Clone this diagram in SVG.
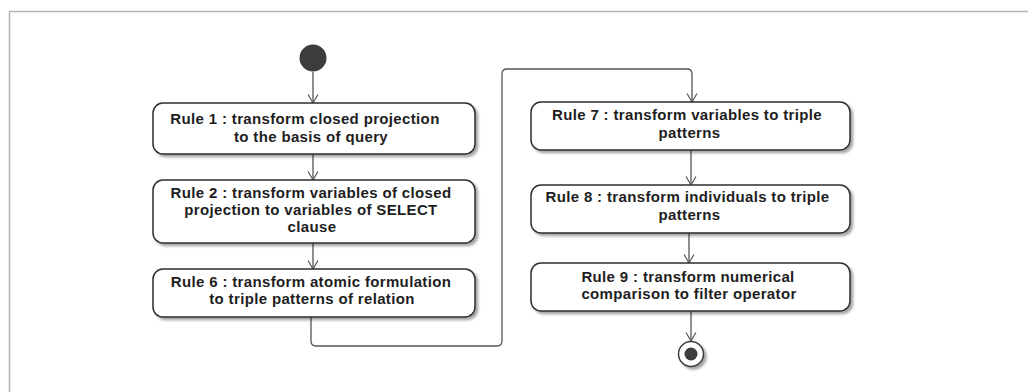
<svg xmlns="http://www.w3.org/2000/svg" width="1028" height="392" viewBox="0 0 1028 392">
  <style>
    .frame { fill: none; stroke: #b4b4b4; stroke-width: 1.5; }
    .action { fill: #ffffff; stroke: #2e2e2e; stroke-width: 1.5; filter: url(#shadow); }
    .label { font-family: "Liberation Sans", Arial, sans-serif; font-weight: bold; font-size: 15px; letter-spacing: 0.35px; fill: #1e1e1e; text-anchor: middle; }
    .flow { fill: none; stroke: #555555; stroke-width: 1.3; marker-end: url(#open-arrow); }
  </style>
  <defs>
    <filter id="shadow" x="-10%" y="-20%" width="130%" height="150%">
      <feDropShadow dx="2.5" dy="2.5" stdDeviation="1.2" flood-color="#000000" flood-opacity="0.35"/>
    </filter>
    <marker id="open-arrow" markerUnits="userSpaceOnUse" viewBox="0 0 10 12" refX="9.5" refY="6" markerWidth="9" markerHeight="12" orient="auto">
      <path d="M0,0.5 L9.5,6 L0,11.5" fill="none" stroke="#555555" stroke-width="1.3"/>
    </marker>
  </defs>

  <rect width="1028" height="392" fill="#ffffff"/>
  <!-- diagram frame (top and left edges) -->
  <path class="frame" d="M9.5,392 V11.5 H1028"/>

  <!-- control flows -->
  <g id="connectors">
    <path class="flow" d="M313,72 V103"/>
    <path class="flow" d="M313,154 V180"/>
    <path class="flow" d="M313,243 V269"/>
    <path class="flow" d="M311,317 V341 Q311,346 316,346 H497 Q502,346 502,341 V74 Q502,69 507,69 H687 Q692,69 692,74 V102"/>
    <path class="flow" d="M691,150 V185"/>
    <path class="flow" d="M689,233 V263"/>
    <path class="flow" d="M691,311 V341"/>
  </g>

  <g id="start">
    <circle cx="313" cy="58" r="13.5" fill="#3c3c3c"/>
  </g>

  <g id="rule1">
    <rect class="action" x="153" y="103" width="322" height="51" rx="10"/>
    <text class="label" x="305" y="123.5">Rule 1 : transform closed projection</text>
    <text class="label" x="311" y="142">to the basis of query</text>
  </g>

  <g id="rule2">
    <rect class="action" x="153" y="180" width="322" height="63" rx="10"/>
    <text class="label" x="311" y="198">Rule 2 : transform variables of closed</text>
    <text class="label" x="311" y="214.5">projection to variables of SELECT</text>
    <text class="label" x="312" y="231.5">clause</text>
  </g>

  <g id="rule6">
    <rect class="action" x="153" y="269" width="322" height="48" rx="10"/>
    <text class="label" x="311" y="287">Rule 6 : transform atomic formulation</text>
    <text class="label" x="312" y="304">to triple patterns of relation</text>
  </g>

  <g id="rule7">
    <rect class="action" x="531" y="102" width="319" height="48" rx="10"/>
    <text class="label" x="687" y="120">Rule 7 : transform variables to triple</text>
    <text class="label" x="689.5" y="138">patterns</text>
  </g>

  <g id="rule8">
    <rect class="action" x="531" y="185" width="319" height="48" rx="10"/>
    <text class="label" x="687.5" y="202">Rule 8 : transform individuals to triple</text>
    <text class="label" x="689.5" y="220">patterns</text>
  </g>

  <g id="rule9">
    <rect class="action" x="531" y="263" width="319" height="48" rx="10"/>
    <text class="label" x="688" y="282">Rule 9 : transform numerical</text>
    <text class="label" x="689" y="299">comparison to filter operator</text>
  </g>

  <g id="final">
    <circle cx="691" cy="354" r="12.5" fill="#ffffff" stroke="#3c3c3c" stroke-width="1.5" filter="url(#shadow)"/>
    <circle cx="691" cy="354" r="6.5" fill="#3c3c3c"/>
  </g>
</svg>
